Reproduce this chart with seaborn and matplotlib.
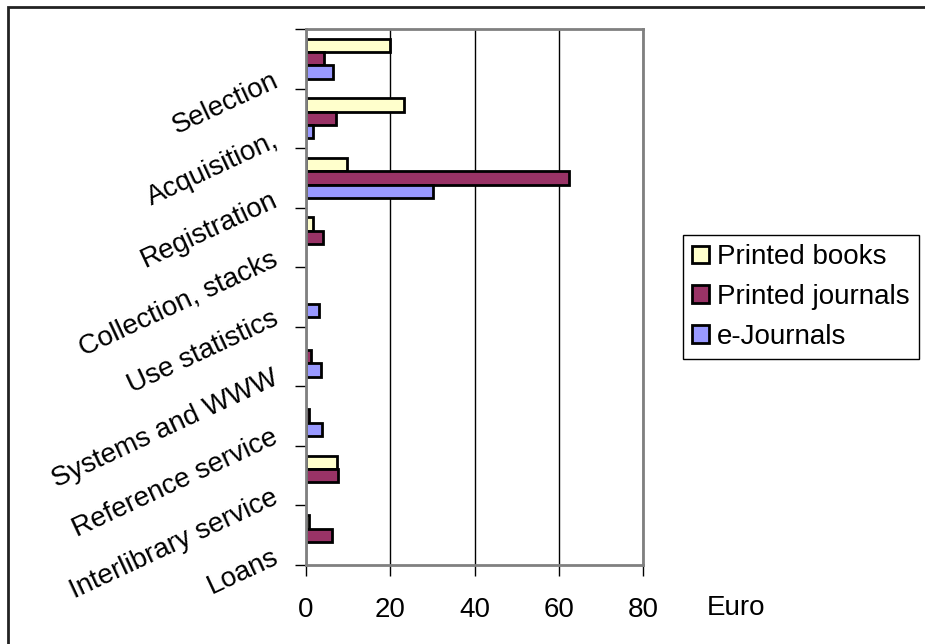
import numpy as np
import pandas as pd
import matplotlib
matplotlib.use("Agg")
import matplotlib.pyplot as plt
import seaborn as sns
from matplotlib.patches import Rectangle, Patch

categories = ["Selection", "Acquisition,", "Registration", "Collection, stacks",
              "Use statistics", "Systems and WWW", "Reference service",
              "Interlibrary service", "Loans"]
series = ["Printed books", "Printed journals", "e-Journals"]
printed_books = [20.0, 23.2, 9.8, 1.6, 0, 0, 0, 7.4, 0.6]
printed_journals = [4.3, 7.1, 62.5, 4.1, 0, 1.1, 0.8, 7.6, 6.1]
e_journals = [6.3, 1.6, 30.2, 0, 3.1, 3.6, 3.7, 0, 0]
x_ticks = [0, 20, 40, 60, 80]
x_label = "Euro"
colors = ["#FFFFCC", "#993366", "#9999FF"]

plt.rcParams["font.family"] = ["Liberation Sans", "DejaVu Sans"]

rows = []
for s, vals in zip(series, [printed_books, printed_journals, e_journals]):
    for c, v in zip(categories, vals):
        if v > 0:
            rows.append({"category": c, "series": s, "value": v})
df = pd.DataFrame(rows)

W, H = 925, 644
fig = plt.figure(figsize=(W / 100, H / 100), dpi=100)
ax = fig.add_axes([306 / W, 1 - 565 / H, (643 - 306) / W, (565 - 29) / H])

sns.barplot(data=df, x="value", y="category", hue="series", order=categories,
            hue_order=series, palette=colors, orient="h", width=0.67,
            edgecolor="black", linewidth=2, saturation=1, errorbar=None,
            ax=ax, legend=True)

ax.set_xlim(0, 80)
ax.set_ylim(8.5, -0.5)
ax.set_xlabel("")
ax.set_ylabel("")
ax.xaxis.grid(True, color="black", lw=1)
ax.set_axisbelow(True)
for sp in ax.spines.values():
    sp.set_color("#808080")
    sp.set_linewidth(2)

ax.set_xticks(x_ticks)
ax.set_xticklabels([str(t) for t in x_ticks], fontsize=20)
ax.tick_params(axis="x", length=8, width=1, color="black", pad=15)

ax.set_yticks(np.arange(len(categories)) + 0.45)
ax.set_yticklabels(categories, fontsize=20, rotation=25, ha="right",
                   va="baseline", rotation_mode="anchor")
ax.set_yticks(np.arange(-0.5, len(categories), 1.0), minor=True)
ax.tick_params(axis="y", which="major", length=0, pad=19)
ax.tick_params(axis="y", which="minor", length=8, width=1, color="black")

fig.text(707 / W, 1 - 615 / H, x_label, fontsize=20, va="baseline", ha="left")

if ax.get_legend() is not None:
    ax.get_legend().remove()
handles = [Patch(facecolor=c, edgecolor="black", linewidth=2) for c in colors]
leg = fig.legend(handles, series, loc="upper left",
                 bbox_to_anchor=(683 / W, 1 - 235 / H), frameon=True,
                 fancybox=False, edgecolor="black", framealpha=1,
                 fontsize=20, handlelength=0.6, handleheight=0.6,
                 handletextpad=0.3, labelspacing=0.5, borderpad=0.33,
                 borderaxespad=0)
leg.get_frame().set_linewidth(1)

fig.patches.append(Rectangle((8 / W, -0.1), 1.2, 1 - 7 / H + 0.1,
                             transform=fig.transFigure, fill=False,
                             edgecolor="#222222", lw=2))

fig.savefig("out.png", dpi=100)
